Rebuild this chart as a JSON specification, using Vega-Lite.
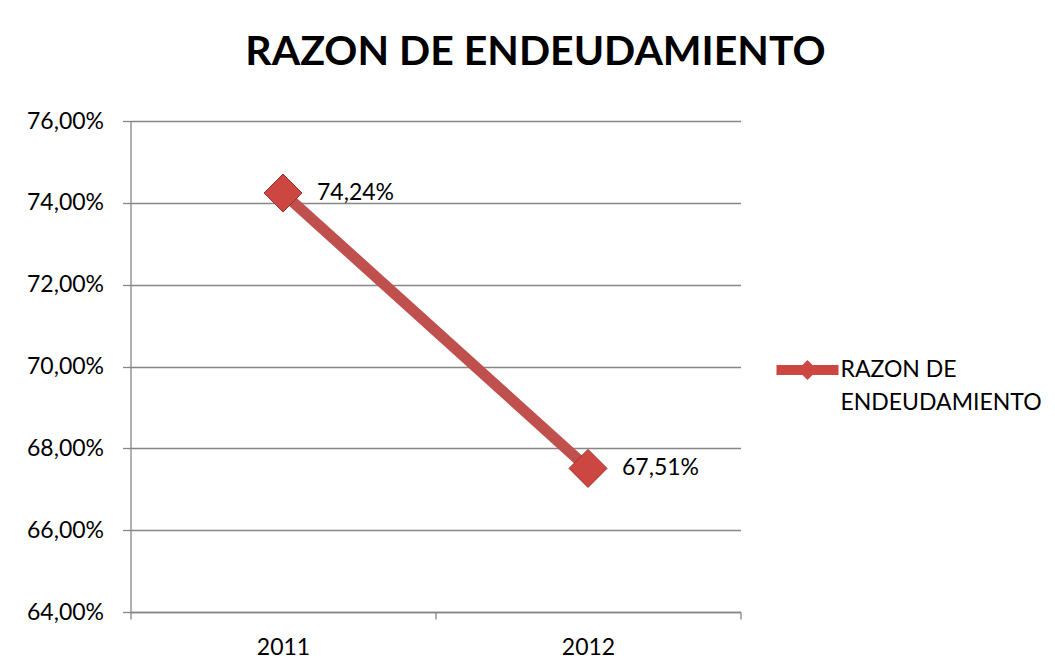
{
  "$schema": "https://vega.github.io/schema/vega-lite/v6.json",
  "width": 610,
  "height": 491,
  "autosize": {"type": "none"},
  "padding": {"left": 130.5, "top": 121, "right": 314.5, "bottom": 59},
  "background": "white",
  "title": {
    "text": "RAZON DE ENDEUDAMIENTO",
    "font": "Lato",
    "fontSize": 41,
    "fontWeight": "bold",
    "color": "black",
    "anchor": "middle",
    "frame": "group",
    "dx": 100,
    "offset": -5,
    "baseline": "bottom"
  },
  "data": {
    "values": [
      {"year": "2011", "value": 0.7424, "series": "RAZON DE ENDEUDAMIENTO"},
      {"year": "2012", "value": 0.6751, "series": "RAZON DE ENDEUDAMIENTO"}
    ]
  },
  "encoding": {
    "x": {
      "field": "year",
      "type": "nominal",
      "bandPosition": 0.5,
      "scale": {"type": "band", "paddingInner": 0, "paddingOuter": 0},
      "axis": {
        "title": null,
        "tickBand": "extent",
        "labelAngle": 0,
        "labelFont": "Lato",
        "labelFontSize": 23,
        "labelColor": "black",
        "labelPadding": 17,
        "tickSize": 7,
        "tickColor": "#868686",
        "tickWidth": 1.3,
        "domainColor": "#868686",
        "domainWidth": 1.3,
        "grid": false
      }
    },
    "y": {
      "field": "value",
      "type": "quantitative",
      "scale": {"domain": [0.64, 0.76], "nice": false, "zero": false},
      "axis": {
        "title": null,
        "values": [0.64, 0.66, 0.68, 0.70, 0.72, 0.74, 0.76],
        "format": ".2%",
        "labelFont": "Lato",
        "labelFontSize": 23,
        "labelColor": "black",
        "labelPadding": 19,
        "tickSize": 8,
        "tickColor": "#868686",
        "tickWidth": 1.3,
        "domainColor": "#868686",
        "domainWidth": 1.3,
        "grid": true,
        "gridColor": "#868686",
        "gridWidth": 1.3
      }
    }
  },
  "layer": [
    {
      "mark": {"type": "line", "strokeWidth": 11, "color": "#C0504D"}
    },
    {
      "mark": {"type": "point", "shape": "diamond", "size": 1444, "filled": true, "opacity": 1, "stroke": "#9E302C", "strokeWidth": 1},
      "encoding": {
        "color": {
          "field": "series",
          "type": "nominal",
          "scale": {"range": ["#CC4642"]},
          "legend": {
            "orient": "none",
            "legendX": 646,
            "legendY": 218,
            "title": null,
            "symbolType": "M -1 -0.16 L 1 -0.16 L 1 0.16 L -1 0.16 Z M 0 -0.32 L 0.32 0 L 0 0.32 L -0.32 0 Z",
            "symbolSize": 3844,
            "symbolStrokeWidth": 0,
            "labelFont": "Lato",
            "labelFontSize": 23,
            "labelColor": "black",
            "labelLimit": 400,
            "labelOffset": 2,
            "labelExpr": "['RAZON DE', 'ENDEUDAMIENTO']",
            "encode": {"labels": {"update": {"lineHeight": {"value": 33}}}}
          }
        }
      }
    },
    {
      "mark": {"type": "text", "align": "left", "baseline": "middle", "dx": 34, "font": "Lato", "fontSize": 23, "color": "black"},
      "encoding": {
        "text": {"field": "value", "type": "quantitative", "format": ".2%"}
      }
    }
  ],
  "config": {
    "locale": {
      "number": {"decimal": ",", "thousands": ".", "grouping": [3], "currency": ["", " €"]}
    },
    "style": {"guide-label": {"lineHeight": 33}},
    "view": {"stroke": null}
  }
}
